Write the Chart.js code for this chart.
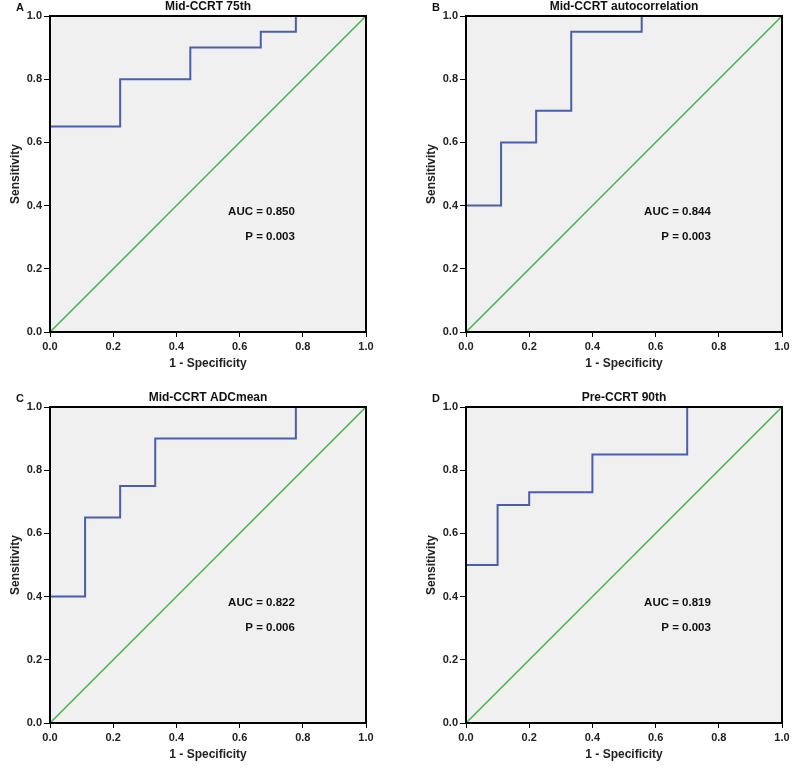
<!DOCTYPE html>
<html>
<head>
<meta charset="utf-8">
<script src="https://cdn.jsdelivr.net/npm/chart.js@4"></script>
<style>
  body { margin: 0; background: #fff; }
  #wrap { position: relative; width: 800px; height: 775px; }
  canvas { position: absolute; }
</style>
</head>
<body>
<div id="wrap">
  <canvas id="cA" width="384" height="385" style="left:0;top:0"></canvas>
  <canvas id="cB" width="384" height="385" style="left:416px;top:0"></canvas>
  <canvas id="cC" width="384" height="385" style="left:0;top:391px"></canvas>
  <canvas id="cD" width="384" height="385" style="left:416px;top:391px"></canvas>
</div>
<script>
// ROC points (1 - specificity, sensitivity) for each panel
const fprA = [0, 0, 0.222, 0.444, 0.667, 0.778, 1];
const tprA = [0, 0.65, 0.8, 0.9, 0.95, 1, 1];
const fprB = [0, 0, 0.111, 0.222, 0.333, 0.556, 1];
const tprB = [0, 0.4, 0.6, 0.7, 0.95, 1, 1];
const fprC = [0, 0, 0.111, 0.222, 0.333, 0.778, 1];
const tprC = [0, 0.4, 0.65, 0.75, 0.9, 1, 1];
const fprD = [0, 0, 0.1, 0.2, 0.4, 0.7, 1];
const tprD = [0, 0.5, 0.69, 0.73, 0.85, 1, 1];

const refLine = [0, 1];

const letters = ['A', 'B', 'C', 'D'];
const titles = ['Mid-CCRT 75th', 'Mid-CCRT autocorrelation', 'Mid-CCRT ADCmean', 'Pre-CCRT 90th'];
const aucLabels = ['AUC = 0.850', 'AUC = 0.844', 'AUC = 0.822', 'AUC = 0.819'];
const pLabels = ['P = 0.003', 'P = 0.003', 'P = 0.006', 'P = 0.003'];

const FONT = '"Liberation Sans", Arial, sans-serif';

function makeChart(id, idx, fpr, tpr) {
    const pts = fpr.map((x, i) => ({x: x, y: tpr[i]}));
    const diag = refLine.map(v => ({x: v, y: v}));

    const panelPlugin = {
        id: 'panel' + idx,
        beforeDraw(chart) {
            const a = chart.chartArea, c = chart.ctx;
            c.save();
            c.fillStyle = '#f0f0f0';
            c.fillRect(a.left, a.top, a.right - a.left, a.bottom - a.top);
            c.restore();
        },
        afterDraw(chart) {
            const a = chart.chartArea, c = chart.ctx;
            const xs = chart.scales.x, ys = chart.scales.y;
            c.save();
            c.strokeStyle = '#000';
            c.lineWidth = 2;
            c.strokeRect(a.left, a.top, a.right - a.left, a.bottom - a.top);
            c.fillStyle = '#111';
            c.textBaseline = 'middle';
            c.font = 'bold 12px ' + FONT;
            c.textAlign = 'center';
            c.fillText(titles[idx], (a.left + a.right) / 2, 7);
            c.font = 'bold 11px ' + FONT;
            c.fillText(letters[idx], 20, 8);
            c.font = 'bold 11.5px ' + FONT;
            c.textAlign = 'right';
            c.fillText(aucLabels[idx], xs.getPixelForValue(0.775), ys.getPixelForValue(0.38));
            c.fillText(pLabels[idx], xs.getPixelForValue(0.775), ys.getPixelForValue(0.30));
            c.restore();
        }
    };

    const tickFont = {family: FONT, size: 11, weight: 'bold'};
    const titleFont = {family: FONT, size: 12, weight: 'bold'};

    return new Chart(document.getElementById(id), {
        type: 'line',
        data: {
            datasets: [
                {
                    data: diag,
                    borderColor: '#3db54a',
                    borderWidth: 1.5,
                    pointRadius: 0,
                    fill: false
                },
                {
                    data: pts,
                    borderColor: '#4a5fab',
                    borderWidth: 2,
                    pointRadius: 0,
                    stepped: 'before',
                    fill: false
                }
            ]
        },
        options: {
            responsive: false,
            animation: false,
            layout: {padding: {left: 0, right: 18, top: 16, bottom: 0}},
            plugins: {legend: {display: false}, tooltip: {enabled: false}},
            scales: {
                x: {
                    type: 'linear',
                    min: 0,
                    max: 1,
                    afterFit(s) { s.height = 53; },
                    ticks: {
                        stepSize: 0.2,
                        color: '#222',
                        font: tickFont,
                        padding: 3,
                        maxRotation: 0,
                        callback: v => v.toFixed(1)
                    },
                    grid: {drawOnChartArea: false, drawTicks: true, tickLength: 5, color: '#000'},
                    border: {color: '#000', width: 2},
                    title: {display: true, text: '1 - Specificity', color: '#222', font: titleFont,
                            padding: {top: 4, bottom: 14}}
                },
                y: {
                    type: 'linear',
                    min: 0,
                    max: 1,
                    afterFit(s) { s.width = 50; },
                    ticks: {
                        stepSize: 0.2,
                        color: '#222',
                        font: tickFont,
                        padding: 2,
                        callback: v => v.toFixed(1)
                    },
                    grid: {drawOnChartArea: false, drawTicks: true, tickLength: 6, color: '#000'},
                    border: {color: '#000', width: 2},
                    title: {display: true, text: 'Sensitivity', color: '#222', font: titleFont,
                            padding: {top: 8, bottom: 0}}
                }
            }
        },
        plugins: [panelPlugin]
    });
}

makeChart('cA', 0, fprA, tprA);
makeChart('cB', 1, fprB, tprB);
makeChart('cC', 2, fprC, tprC);
makeChart('cD', 3, fprD, tprD);
</script>
</body>
</html>
